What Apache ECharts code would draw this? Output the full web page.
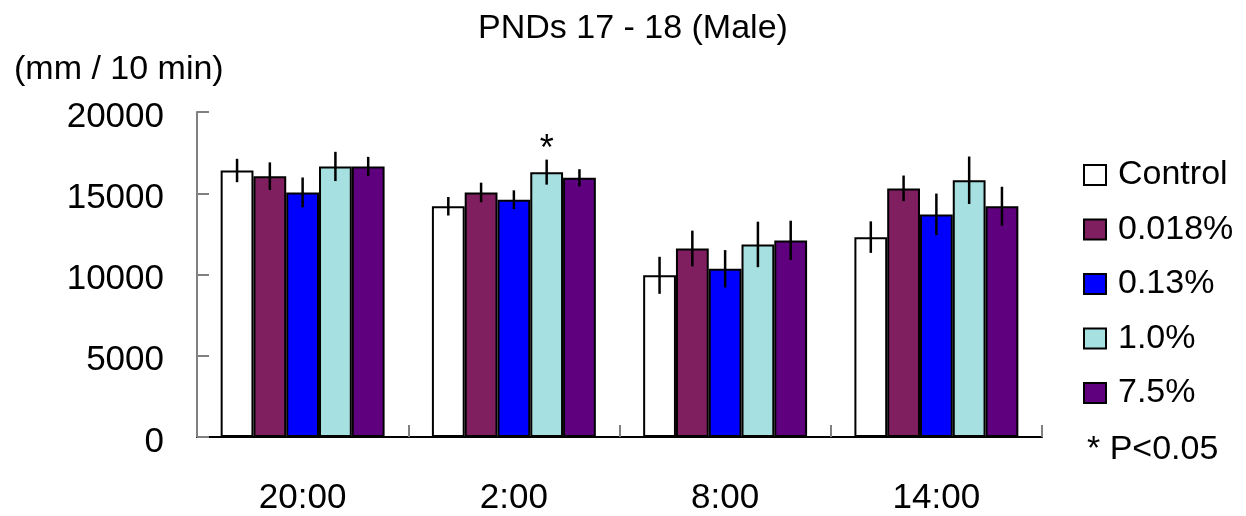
<!DOCTYPE html>
<html>
<head>
<meta charset="utf-8">
<script src="https://cdn.jsdelivr.net/npm/echarts@6/dist/echarts.min.js"></script>
<style>
  html, body { margin: 0; padding: 0; background: #fff; }
  #chart { width: 1246px; height: 516px; }
</style>
</head>
<body>
<div id="chart"></div>
<script>
const categories = ['20:00', '2:00', '8:00', '14:00'];
const groupNames = ['Control', '0.018%', '0.13%', '1.0%', '7.5%'];
const groupColors = ['#FFFFFF', '#7F1F5F', '#0000FF', '#A6E0E0', '#5F007F'];

// means
const controlVals = [16400, 14200, 9950, 12300];
const p0018Vals = [16050, 15050, 11600, 15300];
const p013Vals = [15050, 14600, 10350, 13700];
const p10Vals = [16650, 16300, 11850, 15800];
const p75Vals = [16650, 15950, 12100, 14200];

// error bars (+/-)
const controlErr = [720, 570, 1140, 970];
const p0018Err = [850, 600, 1100, 790];
const p013Err = [920, 580, 1150, 1280];
const p10Err = [900, 770, 1400, 1460];
const p75Err = [590, 530, 1210, 1200];

// significance marks (category index per group)
const sigMarks = { 3: [1] };

const yTicks = [0, 5000, 10000, 15000, 20000];

const allVals = [controlVals, p0018Vals, p013Vals, p10Vals, p75Vals];
const allErr = [controlErr, p0018Err, p013Err, p10Err, p75Err];

const FONT = '"Liberation Sans", Arial, sans-serif';
const CAT_GAP = 0.224;

const chart = echarts.init(document.getElementById('chart'));

const barSeries = groupNames.map(function (name, gi) {
  return {
    name: name,
    type: 'bar',
    barGap: '0%',
    barCategoryGap: (CAT_GAP * 100) + '%',
    itemStyle: { color: groupColors[gi], borderColor: '#000', borderWidth: 2 },
    data: allVals[gi].map(function (v, ci) {
      if (sigMarks[gi] && sigMarks[gi].indexOf(ci) >= 0) {
        return {
          value: v,
          label: {
            show: true, position: 'top', distance: 4, formatter: '*',
            fontSize: 36, color: '#000', fontFamily: FONT
          }
        };
      }
      return v;
    }),
    z: 2
  };
});

// [category index, group index, mean, err]
const errData = [];
allVals.forEach(function (vals, gi) {
  vals.forEach(function (v, ci) {
    errData.push([ci, gi, v, allErr[gi][ci]]);
  });
});

const errSeries = {
  type: 'custom',
  name: 'err',
  z: 5,
  silent: true,
  encode: { x: 0, y: 2 },
  data: errData,
  renderItem: function (params, api) {
    const ci = api.value(0);
    const gi = api.value(1);
    const mean = api.value(2);
    const err = api.value(3);
    const band = api.size([1, 0])[0];
    const bw = band * (1 - CAT_GAP) / groupNames.length;
    const center = api.coord([ci, mean]);
    const x = center[0] + (gi - (groupNames.length - 1) / 2) * bw;
    const top = api.coord([ci, mean + err])[1];
    const bot = api.coord([ci, mean - err])[1];
    return {
      type: 'line',
      shape: { x1: x, y1: top, x2: x, y2: bot },
      style: { stroke: '#000', lineWidth: 2.5 }
    };
  }
};

const option = {
  animation: false,
  backgroundColor: '#fff',
  textStyle: { fontFamily: FONT },
  title: [
    {
      text: 'PNDs 17 - 18 (Male)',
      left: 478, top: 12, padding: 0,
      textStyle: { fontSize: 34, fontWeight: 'normal', color: '#000', fontFamily: FONT }
    },
    {
      text: '(mm / 10 min)',
      left: 14, top: 53, padding: 0,
      textStyle: { fontSize: 34, fontWeight: 'normal', color: '#000', fontFamily: FONT }
    }
  ],
  legend: {
    data: groupNames.map(function (n) { return { name: n, icon: 'rect' }; }),
    orient: 'vertical',
    left: 1083, top: 158,
    padding: 0,
    itemWidth: 22, itemHeight: 20,
    itemGap: 20.5,
    selectedMode: false,
    textStyle: { fontSize: 34, color: '#000', fontFamily: FONT, padding: [0, 0, 0, 7] }
  },
  graphic: [
    {
      type: 'text', left: 1087, top: 433,
      style: { text: '* P<0.05', fontSize: 34, fill: '#000', fontFamily: FONT }
    }
  ],
  grid: { left: 197, right: 204, top: 112, bottom: 77, containLabel: false },
  xAxis: {
    type: 'category',
    data: categories,
    axisLine: { lineStyle: { color: '#000', width: 2 } },
    axisTick: { show: true, inside: true, length: 12, lineStyle: { color: '#808080', width: 2 } },
    axisLabel: { fontSize: 35, color: '#000', margin: 44, fontFamily: FONT }
  },
  yAxis: {
    type: 'value',
    min: 0, max: 20000, interval: 5000,
    axisLine: { show: true, lineStyle: { color: '#808080', width: 2 } },
    axisTick: { show: true, inside: true, length: 12, lineStyle: { color: '#808080', width: 2 } },
    splitLine: { show: false },
    axisLabel: {
      fontSize: 35, color: '#000', margin: 33, fontFamily: FONT,
      verticalAlign: 'top', lineHeight: 10,
      formatter: function (v) { return yTicks.indexOf(v) >= 0 ? String(v) : ''; }
    }
  },
  series: barSeries.concat([errSeries])
};

chart.setOption(option);
</script>
</body>
</html>
